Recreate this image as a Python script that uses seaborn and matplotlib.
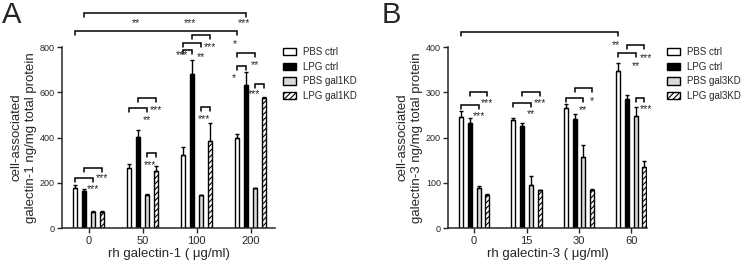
import pandas as pd
import seaborn as sns
import matplotlib.pyplot as plt
import numpy as np

# values (mean, upper error)
doses_a = ['0', '50', '100', '200']
doses_b = ['0', '15', '30', '60']
groups_a = ['PBS ctrl', 'LPG ctrl', 'PBS gal1KD', 'LPG gal1KD']
groups_b = ['PBS ctrl', 'LPG ctrl', 'PBS gal3KD', 'LPG gal3KD']

mean_a = {
    'PBS ctrl': [176, 267, 323, 399],
    'LPG ctrl': [164, 401, 680, 631],
    'PBS gal1KD': [72, 145, 144, 176],
    'LPG gal1KD': [72, 254, 386, 575],
}
err_a = {
    'PBS ctrl': [15, 15, 37, 15],
    'LPG ctrl': [8, 32, 61, 59],
    'PBS gal1KD': [4, 5, 3, 3],
    'LPG gal1KD': [3, 18, 79, 5],
}
mean_b = {
    'PBS ctrl': [245, 239, 266, 347],
    'LPG ctrl': [233, 225, 240, 284],
    'PBS gal3KD': [89, 95, 158, 248],
    'LPG gal3KD': [73, 83, 84, 134],
}
err_b = {
    'PBS ctrl': [13, 5, 7, 18],
    'LPG ctrl': [11, 6, 12, 10],
    'PBS gal3KD': [3, 19, 25, 20],
    'LPG gal3KD': [2, 2, 2, 13],
}

# significance brackets: (group, bar i, bar j, bracket y, stars y, label, star pos along bracket)
sig_a = [
    (0, 0, 2, 221, 186, '***', 1.0), (0, 1, 3, 265, 234, '***', 1.0),
    (1, 0, 2, 530, 491, '**', 1.0), (1, 1, 3, 575, 535, '***', 1.0), (1, 2, 3, 331, 292, '***', 0.3),
    (2, 0, 1, 787, 778, '***', -0.1), (2, 0, 2, 818, 769, '**', 1.0), (2, 1, 3, 853, 813, '***', 1.0),
    (2, 2, 3, 535, 495, '***', 0.3),
    (3, 0, 2, 773, 734, '**', 1.0), (3, 0, 1, 716, 676, '*', -0.4), (3, 2, 3, 636, 606, '***', -0.1),
]
sig_b = [
    (0, 0, 2, 272, 254, '***', 1.0), (0, 1, 3, 300, 283, '***', 1.0),
    (1, 0, 2, 277, 259, '**', 1.0), (1, 1, 3, 300, 283, '***', 1.0),
    (2, 0, 2, 287, 267, '**', 1.0), (2, 1, 3, 309, 287, '*', 1.0),
    (3, 0, 2, 387, 365, '**', 1.0), (3, 1, 3, 404, 382, '***', 1.1), (3, 2, 3, 287, 270, '***', 1.2),
]
# across-dose brackets: (bar, group from, group to, bracket y, stars y, labels at groups)
long_a = [
    (1, 0, 3, 950, 919, {1: '**', 2: '***', 3: '***'}),
    (0, 0, 3, 871, 826, {3: '*'}),
]
long_b = [
    (0, 0, 3, 433, 411, {3: '**'}),
]

sns.set_style('ticks')
plt.rcParams['font.family'] = ['Liberation Sans', 'DejaVu Sans']
plt.rcParams['hatch.linewidth'] = 0.8

fig = plt.figure(figsize=(7.45, 2.65), dpi=100)
ax_a = fig.add_axes([62/745, 1-228/265, (275-62)/745, 181/265])
ax_b = fig.add_axes([448/745, 1-228/265, (647-448)/745, 181/265])

colors = ['white', 'black', '#d9d9d9', 'white']


def stars(ax, x, y, lab):
    ax.annotate(lab, (x, y), xytext=(0, -4.3), textcoords='offset points',
                ha='center', va='baseline', fontsize=7.5, annotation_clip=False)


def panel(ax, doses, groups, means, errs, ymax, ystep, tick_d, sig, long, xlab, ylab, xlim_r, leg_x):
    rows = []
    for g in groups:
        for d, v in zip(doses, means[g]):
            rows.append({'dose': d, 'group': g, 'value': v})
    df = pd.DataFrame(rows)
    sns.barplot(data=df, x='dose', y='value', hue='group', order=doses, hue_order=groups,
                palette=colors, width=0.667, gap=0.55, errorbar=None,
                edgecolor='black', linewidth=1, ax=ax, legend=False)
    for p in ax.containers[3]:
        p.set_hatch('//////')
    pos = []
    for g, cont in zip(groups, ax.containers):
        xs = [p.get_x() + p.get_width() / 2 for p in cont]
        pos.append(xs)
        ax.errorbar(xs, means[g], yerr=[np.zeros(len(xs)), errs[g]], fmt='none',
                    ecolor='black', elinewidth=1, capsize=1.6, capthick=1, zorder=3)
    pos = np.array(pos)

    def bracket(x1, x2, y):
        ax.plot([x1, x1, x2, x2], [y - tick_d, y, y, y - tick_d], color='black', lw=1.1,
                clip_on=False, solid_joinstyle='miter')

    for gi, i, j, by, sy, lab, f in sig:
        x1, x2 = pos[i][gi], pos[j][gi]
        bracket(x1, x2, by)
        stars(ax, x1 + f * (x2 - x1), sy, lab)
    for b, g1, g2, by, sy, labs in long:
        bracket(pos[b][g1], pos[b][g2], by)
        for gi, lab in labs.items():
            stars(ax, pos[b][gi] - 0.05, sy, lab)

    ax.set_ylim(0, ymax)
    ax.set_xlim(-0.5, xlim_r)
    ax.set_yticks(np.arange(0, ymax + 1, ystep))
    ax.tick_params(axis='y', labelsize=6.5, length=3.5, width=1, pad=1.5)
    ax.tick_params(axis='x', labelsize=8, length=3.5, width=1, pad=2)
    ax.set_xlabel(xlab, fontsize=9.5, labelpad=2)
    ax.set_ylabel(ylab, fontsize=9.5, labelpad=2, linespacing=1.35)
    for s in ['left', 'bottom']:
        ax.spines[s].set_linewidth(1.1)
    sns.despine(ax=ax)
    ax.legend(ax.containers, groups, loc='upper left', bbox_to_anchor=(leg_x/745, 1-47/265),
              bbox_transform=fig.transFigure, frameon=False, fontsize=7, borderpad=0,
              borderaxespad=0, handlelength=1.35, handleheight=0.75, handletextpad=0.7,
              labelspacing=0.48)


panel(ax_a, doses_a, groups_a, mean_a, err_a, 800, 200, 18, sig_a, long_a,
      'rh galectin-1 ( \u03bcg/ml)', 'cell-associated\ngalectin-1 ng/mg total protein', 3.45, 283)
panel(ax_b, doses_b, groups_b, mean_b, err_b, 400, 100, 9, sig_b, long_b,
      'rh galectin-3 ( \u03bcg/ml)', 'cell-associated\ngalectin-3 ng/mg total protein', 3.3, 667)

fig.text(2/745, 1-1/265, 'A', fontsize=21, va='top', ha='left')
fig.text(382/745, 1-1/265, 'B', fontsize=21, va='top', ha='left')

fig.savefig('out.png', dpi=100)
